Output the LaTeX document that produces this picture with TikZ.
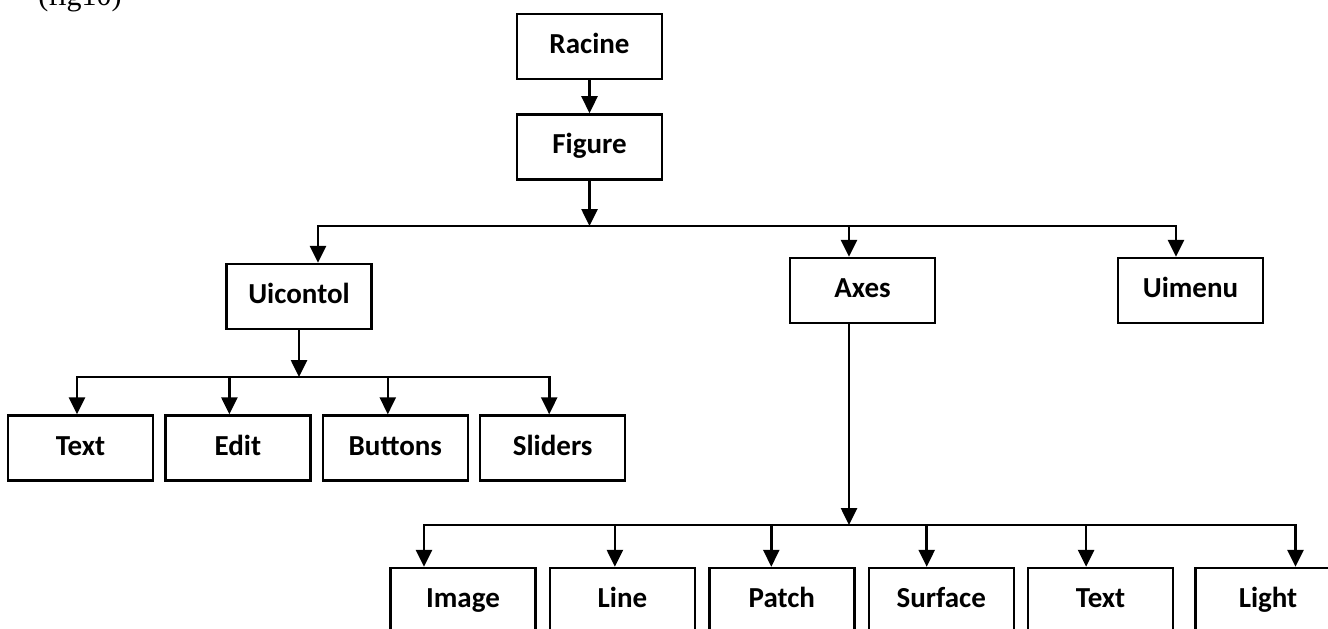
\documentclass[tikz,border=0pt]{standalone}
\usepackage{fontspec}
\setmainfont{Liberation Serif}
\newfontfamily\boxfont{Carlito}
\usetikzlibrary{positioning,calc,arrows.meta}
\tikzset{objnode/.style={shape=rectangle, draw=black, line width=1.2pt, minimum width=72.5pt, minimum height=32.5pt, inner sep=0pt, text height=10pt, text depth=3pt, font=\boxfont\bfseries\fontsize{14.5}{17}\selectfont}}
\tikzset{link/.style={line width=1.3pt, -{Triangle[length=8.5pt,width=8pt]}}}

\begin{document}
\begin{tikzpicture}[x=0.5pt,y=-0.5pt]
\useasboundingbox (0,0) rectangle (1328,628);
%Nodes
\node[anchor=base west, inner sep=0pt, font=\fontsize{15}{18}\selectfont] (figlabel) at (38,5) {(fig10)};
\node[objnode]   (racine)   at (589.5,46.5) {Racine};
\node[objnode]   (figure)   [below=16.5pt of racine] {Figure};
\node[objnode]   (uicontol) at (299,296.5) {Uicontol};
\node[objnode]   (axes)     at (862.5,290.5) {Axes};
\node[objnode]   (uimenu)   at (1190.5,290.5) {Uimenu};
\node[objnode]   (txtui)    at (80.5,448) {Text};
\node[objnode]   (edit)     [right=5pt of txtui] {Edit};
\node[objnode]   (buttons)  [right=5pt of edit] {Buttons};
\node[objnode]   (sliders)  [right=5pt of buttons] {Sliders};
\node[objnode]   (image)    at (463,600.5) {Image};
\node[objnode]   (line)     [right=6pt of image] {Line};
\node[objnode]   (patch)    [right=6pt of line] {Patch};
\node[objnode]   (surface)  [right=6pt of patch] {Surface};
\node[objnode]   (txtax)    [right=6pt of surface] {Text};
\node[objnode]   (light)    [right=10pt of txtax] {Light};
\coordinate (bus1) at (589.5,226);
\coordinate (bus2) at (299,377);
\coordinate (bus3) at (849,525);
%Lines
\draw[link] (racine) -- (figure);
\draw[link] (figure) -- (bus1);
\draw[link] (bus1) -| ([xshift=9.5pt]uicontol.north);
\draw[link] (bus1) -| ([xshift=-6.75pt]axes.north);
\draw[link] (bus1) -| ([xshift=-7.25pt]uimenu.north);
\draw[link] (uicontol) -- (bus2);
\draw[link] (bus2) -| ([xshift=-1.75pt]txtui.north);
\draw[link] (bus2) -| ([xshift=-4.25pt]edit.north);
\draw[link] (bus2) -| ([xshift=-3.75pt]buttons.north);
\draw[link] (bus2) -| ([xshift=-1.75pt]sliders.north);
\draw[link] ([xshift=-6.75pt]axes.south) -- (bus3);
\draw[link] (bus3) -| ([xshift=-19.5pt]image.north);
\draw[link] (bus3) -| ([xshift=-3.75pt]line.north);
\draw[link] (bus3) -| ([xshift=-5.25pt]patch.north);
\draw[link] (bus3) -| ([xshift=-7.25pt]surface.north);
\draw[link] (bus3) -| ([xshift=-7.25pt]txtax.north);
\draw[link] (bus3) -| ([xshift=13.75pt]light.north);
\end{tikzpicture}
\end{document}
